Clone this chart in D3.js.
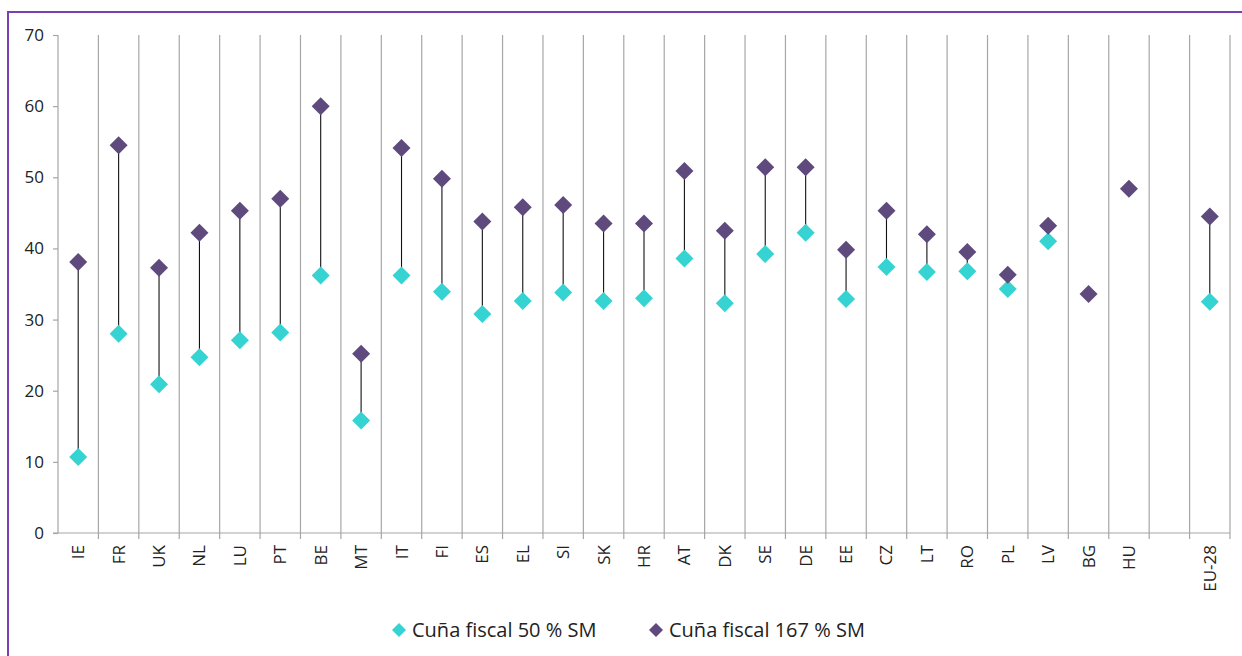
<!DOCTYPE html>
<html>
<head>
<meta charset="utf-8">
<script src="https://cdn.jsdelivr.net/npm/d3@7"></script>
<style>
  html, body { margin: 0; padding: 0; background: #fff; }
  svg { display: block; }
  text { font-family: "Open Sans", "Liberation Sans", sans-serif; fill: #222; }
</style>
</head>
<body>
<div id="chart"></div>
<script>
// Countries (an empty slot separates the EU-28 aggregate)
const categories = ["IE","FR","UK","NL","LU","PT","BE","MT","IT","FI","ES","EL","SI","SK","HR","AT","DK","SE","DE","EE","CZ","LT","RO","PL","LV","BG","HU","","EU-28"];
// Tax wedge at 50 % of the average wage
const wedge50 = [10.7,28.0,20.9,24.7,27.1,28.2,36.2,15.8,36.2,33.9,30.8,32.6,33.8,32.6,33.0,38.6,32.3,39.2,42.2,32.9,37.4,36.7,36.8,34.3,41.0,null,null,null,32.5];
// Tax wedge at 167 % of the average wage
const wedge167 = [38.1,54.5,37.3,42.2,45.3,47.0,60.0,25.2,54.1,49.8,43.8,45.8,46.1,43.5,43.5,50.9,42.5,51.4,51.4,39.8,45.3,42.0,39.5,36.3,43.2,33.6,48.4,null,44.5];
const yTicks = [0,10,20,30,40,50,60,70];
const seriesNames = ["Cuña fiscal 50 % SM", "Cuña fiscal 167 % SM"];

const W = 1242, H = 656;
const colors = ["#36d3d3", "#5f4a7d"];

const svg = d3.select("#chart").append("svg").attr("width", W).attr("height", H);

// outer frame
svg.append("rect")
  .attr("x", 8).attr("y", 12)
  .attr("width", W + 20).attr("height", H + 20)
  .attr("fill", "none").attr("stroke", "#7b3fb0").attr("stroke-width", 2);

const m = { left: 58, right: 1230, top: 35, bottom: 533 };

const x = d3.scaleBand().domain(d3.range(categories.length)).range([m.left, m.right]).padding(0);
const y = d3.scaleLinear().domain([0, 70]).range([m.bottom, m.top]);

// vertical separators between categories
const bounds = d3.range(categories.length + 1).map(i => m.left + i * x.step());
svg.append("g").selectAll("line").data(bounds.slice(1)).join("line")
  .attr("x1", d => d).attr("x2", d => d)
  .attr("y1", m.top).attr("y2", m.bottom + 6)
  .attr("stroke", "#a6a6a6").attr("stroke-width", 1.2);

// y axis
const yAxis = svg.append("g").attr("transform", `translate(${m.left},0)`)
  .call(d3.axisLeft(y).tickValues(yTicks).tickSize(5).tickPadding(9).tickFormat(d3.format("d")));
yAxis.select(".domain").attr("stroke", "#a6a6a6").attr("stroke-width", 1.2).attr("d", `M0,${m.top}V${m.bottom}`);
yAxis.selectAll(".tick line").attr("stroke", "#a6a6a6").attr("stroke-width", 1.2);
yAxis.selectAll(".tick text").style("font-size", "17px").attr("fill", "#222");

// x axis baseline
svg.append("line")
  .attr("x1", m.left - 5).attr("x2", m.right)
  .attr("y1", y(0)).attr("y2", y(0))
  .attr("stroke", "#a6a6a6").attr("stroke-width", 1.2);

// category labels, rotated
svg.append("g").selectAll("text").data(categories).join("text")
  .attr("transform", (d, i) => `translate(${x(i) + x.bandwidth() / 2 + 6},${m.bottom + 12}) rotate(-90)`)
  .attr("text-anchor", "end")
  .style("font-size", "17px")
  .text(d => d);

// connectors between the two wedges
const pairs = categories.map((c, i) => ({ i, a: wedge50[i], b: wedge167[i] }))
  .filter(d => d.a != null && d.b != null);
svg.append("g").selectAll("line").data(pairs).join("line")
  .attr("x1", d => x(d.i) + x.bandwidth() / 2).attr("x2", d => x(d.i) + x.bandwidth() / 2)
  .attr("y1", d => y(d.a)).attr("y2", d => y(d.b))
  .attr("stroke", "#111").attr("stroke-width", 1.1);

function diamondPath(r) {
  return `M0,${-r}L${r},0L0,${r}L${-r},0Z`;
}

[wedge50, wedge167].forEach((series, s) => {
  svg.append("g").selectAll("path")
    .data(series.map((v, i) => ({ i, v })).filter(d => d.v != null))
    .join("path")
    .attr("d", diamondPath(9))
    .attr("transform", d => `translate(${x(d.i) + x.bandwidth() / 2},${y(d.v)})`)
    .attr("fill", colors[s]);
});

// legend
const legend = svg.append("g");
const legendPos = [399, 656];
seriesNames.forEach((name, s) => {
  legend.append("path").attr("d", diamondPath(7))
    .attr("transform", `translate(${legendPos[s]},630)`).attr("fill", colors[s]);
  legend.append("text").attr("x", legendPos[s] + 13).attr("y", 637)
    .style("font-size", "20px").text(name);
});
</script>
</body>
</html>
